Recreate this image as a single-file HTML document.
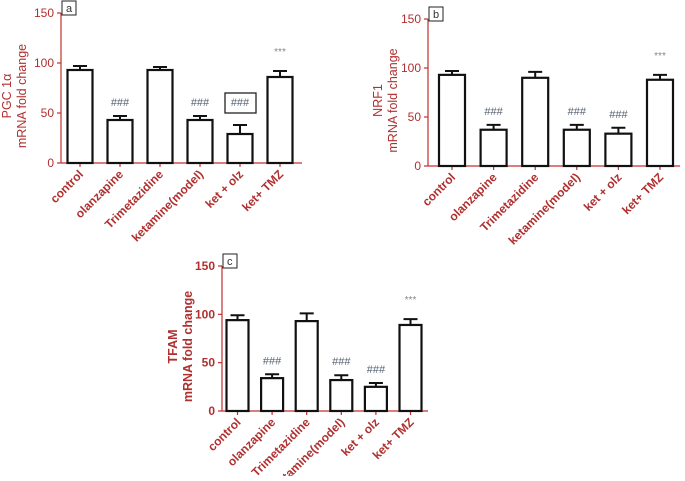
<!DOCTYPE html>
<html><head><meta charset="utf-8"><style>
body{margin:0;background:#fff;width:685px;height:476px;overflow:hidden}
svg text{font-family:"Liberation Sans",Arial,sans-serif}
</style></head><body>
<svg id="c" width="685" height="476"></svg>
<script>
const categories=["control","olanzapine","Trimetazidine","ketamine(model)","ket + olz","ket+ TMZ"];
const pgcValues=[93,43,93,43,29,86];
const pgcErrors=[4,4,3,4,9,6];
const nrfValues=[93,37,90,37,33,88];
const nrfErrors=[4,5,6,5,6,5];
const tfamValues=[94,34,93,32,25,89];
const tfamErrors=[5,4,8,5,4,6];
const annotations=["","###","","###","###","***"];
const yTicks=[0,50,100,150];
const panels=[
 {id:"a",title:["PGC 1α","mRNA fold change"],vals:pgcValues,errs:pgcErrors,ax:61,y0:163,y150:13,xEnd:302,c0:80,step:40,bw:25,boxIdx:4,bold:false,tOff:50},
 {id:"b",title:["NRF1","mRNA fold change"],vals:nrfValues,errs:nrfErrors,ax:428,y0:166,y150:19,xEnd:680,c0:452,step:41.6,bw:26,boxIdx:-1,bold:false,tOff:46},
 {id:"c",title:["TFAM","mRNA fold change"],vals:tfamValues,errs:tfamErrors,ax:222,y0:411,y150:266,xEnd:428,c0:237.5,step:34.6,bw:22,boxIdx:-1,bold:true,tOff:45}
];
const NS="http://www.w3.org/2000/svg";
const svg=document.getElementById("c");
function mk(t,a,p){const e=document.createElementNS(NS,t);for(const k in a)e.setAttribute(k,a[k]);(p||svg).appendChild(e);return e;}
const RED="#b03030",AX="#c03030";
panels.forEach(P=>{
 const g=mk("g",{});
 
 
 const y=v=>P.y0-(v/150)*(P.y0-P.y150);
 const x=i=>P.c0+i*P.step;
 const yl=mk("line",{x1:P.ax,y1:P.y150,x2:P.ax,y2:P.y0,stroke:AX,"stroke-width":1.2},g);
 
 
 const xl=mk("line",{x1:P.ax,y1:P.y0,x2:P.xEnd,y2:P.y0,stroke:AX,"stroke-width":1.2},g);
 
 
 yTicks.forEach(t=>{
  mk("line",{x1:P.ax-4,y1:y(t),x2:P.ax,y2:y(t),stroke:AX,"stroke-width":1.2},g);
  const tx=mk("text",{x:P.ax-7,y:y(t)+4,"text-anchor":"end","font-size":12,fill:RED,"font-weight":P.bold?"bold":"normal"},g);
  tx.textContent=t;
  
  
 });
 const tcx=P.ax-P.tOff;
 const tm=(P.y0+P.y150)/2+8;
 const tt=mk("text",{transform:`translate(${tcx},${tm}) rotate(-90)`,"text-anchor":"middle","font-size":12.5,fill:RED,"font-weight":P.bold?"bold":"normal"},g);
 
 
 const s1=mk("tspan",{x:0,dy:0},tt);s1.textContent=P.title[0];
 const s2=mk("tspan",{x:0,dy:15},tt);s2.textContent=P.title[1];
 const lb=mk("rect",{x:P.ax+1,y:P.y150-12,width:14,height:14,fill:"#fff",stroke:"#222","stroke-width":1},g);
 
 
 const lt=mk("text",{x:P.ax+5,y:P.y150-1,"font-size":11,fill:"#333"},g);lt.textContent=P.id;
 
 
 P.vals.forEach((v,i)=>{
  const cx=x(i);
  mk("line",{x1:cx,y1:P.y0,x2:cx,y2:P.y0+4,stroke:AX,"stroke-width":1.2},g);
  const r=mk("rect",{x:cx-P.bw/2,y:y(v),width:P.bw,height:P.y0-y(v),fill:"#fff",stroke:"#111","stroke-width":2.2},g);
  
  
  const et=y(v+P.errs[i]);
  const el=mk("path",{d:`M${cx},${y(v)}V${et}M${cx-7},${et}H${cx+7}`,stroke:"#111","stroke-width":2,fill:"none"},g);
  
  
  const an=annotations[i];
  if(an){
   let ay=et-10;
   if(i===P.boxIdx){
    ay=Math.min(ay,y(P.vals[1]+P.errs[1])-10);
    const ab=mk("rect",{x:cx-15,y:ay-13,width:31,height:20,fill:"#fff",stroke:"#222","stroke-width":1.3},g);
    
    
   }
   const at=mk("text",{x:cx,y:an==="***"?ay-6:ay,"text-anchor":"middle","font-size":an==="***"?10:11,fill:an==="***"?"#888":"#556070"},g);
   at.textContent=an;
   
   
  }
  const cl=mk("text",{transform:`translate(${cx+4},${P.y0+12}) rotate(-45)`,"text-anchor":"end","font-size":12,fill:RED,"font-weight":"bold"},g);
  cl.textContent=categories[i];
  
  
 });
});
</script>
</body></html>
